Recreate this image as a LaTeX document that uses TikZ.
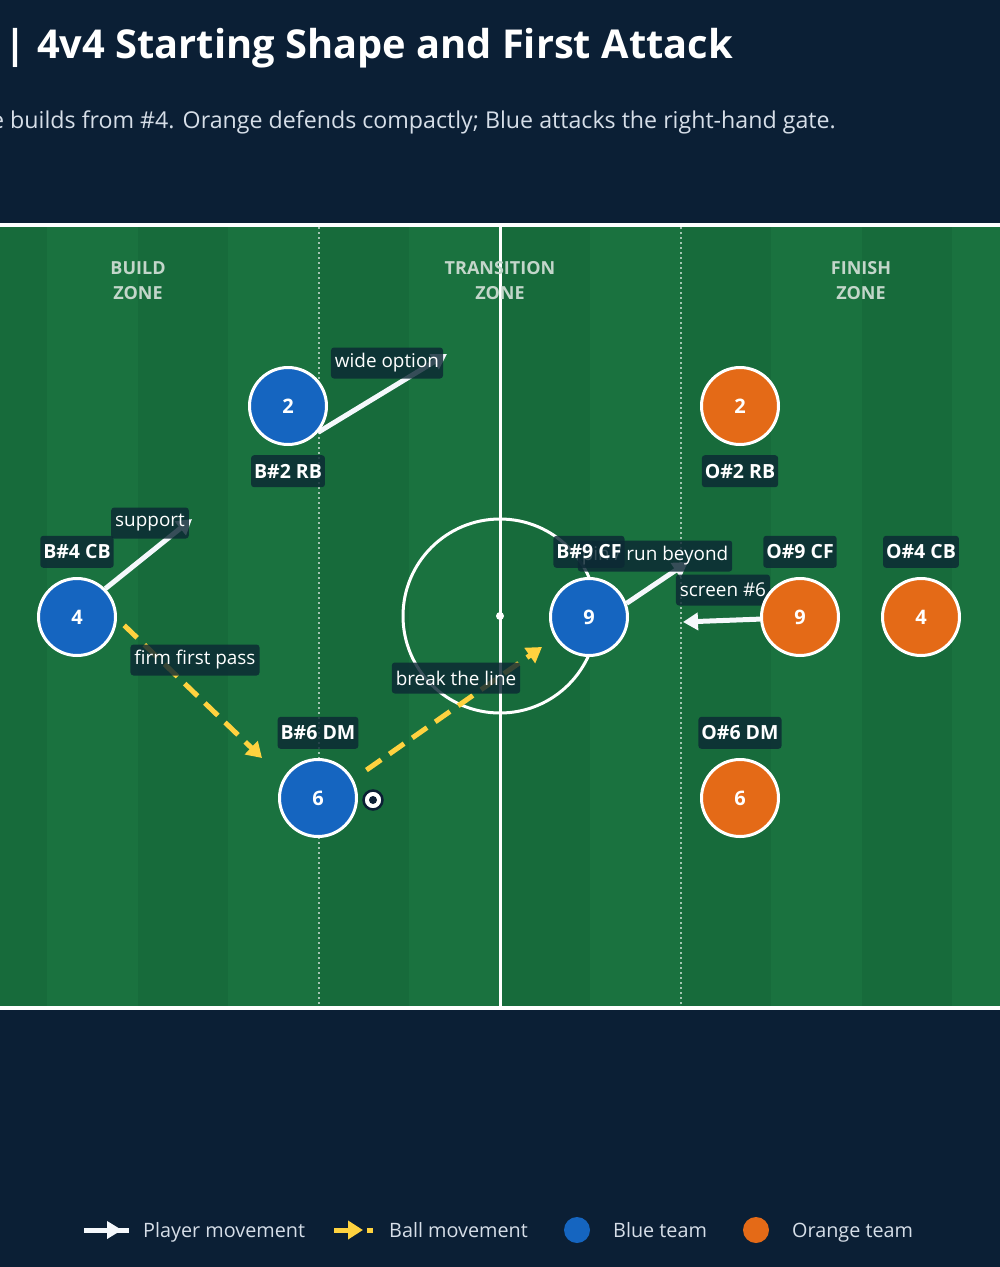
\documentclass[tikz,border=0pt]{standalone}
\usepackage{fontspec}
\setmainfont{Open Sans}
\usetikzlibrary{arrows.meta,positioning}

\definecolor{navyBack}{HTML}{0B1F35}
\definecolor{pitchGreen}{HTML}{1A723F}
\definecolor{pitchStripe}{HTML}{176B3B}
\definecolor{teamBlue}{HTML}{1565C0}
\definecolor{teamOrange}{HTML}{E46A17}
\definecolor{tagFill}{HTML}{0C2834}
\definecolor{ballYellow}{HTML}{FFD23F}
\definecolor{zoneText}{HTML}{C3D6CA}
\definecolor{softText}{HTML}{D6DEE8}
\definecolor{moveWhite}{HTML}{F5F8FC}

\pgfdeclarelayer{pitch}
\pgfdeclarelayer{marks}
\pgfsetlayers{pitch,marks,main}

\begin{document}
\begin{tikzpicture}[x=1pt,y=-1pt,
  player/.style={circle,draw=white,line width=3pt,minimum size=77pt,inner sep=0pt,text=white,font=\fontsize{20}{22}\selectfont\bfseries},
  bluePlayer/.style={player,fill=teamBlue},
  orangePlayer/.style={player,fill=teamOrange},
  tag/.style={fill=tagFill,fill opacity=0.82,text opacity=1,text=white,rounded corners=3pt,inner xsep=3pt,inner ysep=0pt,minimum height=32pt,font=\fontsize{19.5}{22}\selectfont\bfseries},
  note/.style={tag,inner xsep=4pt,minimum height=31pt,font=\fontsize{18.9}{22}\selectfont},
  move/.style={-{Triangle[length=15pt,width=17pt]},draw=moveWhite,line width=5pt},
  pass/.style={-{Triangle[length=15pt,width=18pt]},draw=ballYellow,line width=5pt,dash pattern=on 18pt off 10pt},
  zone/.style={text=zoneText,align=center,font=\fontsize{18}{25}\selectfont\bfseries},
  legendText/.style={text=softText,anchor=base west,inner sep=0pt,font=\fontsize{19.8}{22}\selectfont}]

\useasboundingbox (0,0) rectangle (1000,1267);

\begin{pgfonlayer}{pitch}
\fill[navyBack] (0,0) rectangle (1000,1267);
\fill[pitchGreen] (-10,227) rectangle (1010,1008);
\foreach \k in {0,...,5}
  \fill[pitchStripe] ({-43.5+181*\k},227) rectangle ++(90.5,781);
\foreach \x in {319,681}
  \draw[white,opacity=0.6,line width=1.5pt,dash pattern=on 2pt off 3pt] (\x,227) -- (\x,1008);
\draw[white,line width=3pt] (500,227) -- (500,1008);
\draw[white,line width=3pt] (500,616) circle[radius=97pt];
\fill[white] (500,616) circle[radius=4pt];
\draw[white,line width=4.5pt] (-10,225) -- (1010,225);
\draw[white,line width=4.5pt] (-10,1008) -- (1010,1008);
\end{pgfonlayer}

% titles
\node[anchor=base east,inner sep=0pt,text=white,font=\fontsize{39.8}{44}\selectfont\bfseries] (title) at (733,58) {| 4v4 Starting Shape and First Attack};
\node[anchor=base east,inner sep=0pt,text=softText,font=\fontsize{23.2}{26}\selectfont] (subtitle) at (836,128) {e builds from \#4. Orange defends compactly; Blue attacks the right-hand gate.};

\node[zone] (zoneBuild)      at (138,281) {BUILD\\ZONE};
\node[zone] (zoneTransition) at (500,281) {TRANSITION\\ZONE};
\node[zone] (zoneFinish)     at (861,281) {FINISH\\ZONE};

% players
\node[bluePlayer]   (blueRB)   at (288,406) {2};
\node[bluePlayer]   (blueCB)   at (77,617)  {4};
\node[bluePlayer]   (blueDM)   at (318,798) {6};
\node[bluePlayer]   (blueCF)   at (589,617) {9};
\node[orangePlayer] (orangeRB) at (740,406) {2};
\node[orangePlayer] (orangeCF) at (800,617) {9};
\node[orangePlayer] (orangeCB) at (921,617) {4};
\node[orangePlayer] (orangeDM) at (740,798) {6};

\node[circle,fill=white,draw=navyBack,line width=2.5pt,minimum size=19pt,inner sep=0pt] (ball) at (373,800) {};
\fill[navyBack] (ball.center) circle[radius=4pt];

\coordinate (wideTip)    at (447,354);
\coordinate (supportTip) at (192,519);
\coordinate (runTip)     at (688,562);
\coordinate (screenTip)  at (683,622);
\coordinate (passOneTip) at (262,758);
\coordinate (passTwoTip) at (542,647);

\begin{pgfonlayer}{marks}
\draw[move] (blueRB.-41)   -- (wideTip);
\draw[move] (blueCB.45)    -- (supportTip);
\draw[move] (blueCF.20)    -- (runTip);
\draw[move] (orangeCF.183) -- (screenTip);

\draw[pass,shorten <=10pt] (blueCB.-2) -- (passOneTip);
\draw[pass,shorten <=16pt] (blueDM.28) -- (passTwoTip);

\node[note] (noteWide)    at (387,363) {wide option};
\node[note] (noteSupport) at (150,523) {support};
\node[note] (noteFirm)    at (195,660) {firm first pass};
\node[note] (noteBreak)   at (456,678) {break the line};
\node[note] (noteRun)     at (655,556) {pin / run beyond};
\node[note] (noteScreen)  at (723,590) {screen \#6};
\end{pgfonlayer}

\node[tag,below=9pt of blueRB]   (tagBlueRB)   {B\#2 RB};
\node[tag,below=9pt of orangeRB] (tagOrangeRB) {O\#2 RB};
\node[tag,above=9pt of blueCB]   (tagBlueCB)   {B\#4 CB};
\node[tag,above=9pt of blueCF]   (tagBlueCF)   {B\#9 CF};
\node[tag,above=9pt of orangeCF] (tagOrangeCF) {O\#9 CF};
\node[tag,above=9pt of orangeCB] (tagOrangeCB) {O\#4 CB};
\node[tag,above=9pt of blueDM]   (tagBlueDM)   {B\#6 DM};
\node[tag,above=9pt of orangeDM] (tagOrangeDM) {O\#6 DM};

% legend
\draw[moveWhite,line width=5pt] (84,1230) -- (129,1230);
\draw[move] (96,1230) -- (122,1230);
\draw[pass,dash pattern=] (334,1230) -- (363,1230);
\fill[ballYellow] (367,1227.5) rectangle (373,1232.5);
\fill[teamBlue]   (577,1230) circle[radius=13pt];
\fill[teamOrange] (756,1230) circle[radius=13pt];
\node[legendText] (legendMove)   at (143,1237) {Player movement};
\node[legendText] (legendBall)   at (389,1237) {Ball movement};
\node[legendText] (legendBlue)   at (613,1237) {Blue team};
\node[legendText] (legendOrange) at (792,1237) {Orange team};
\end{tikzpicture}
\end{document}
